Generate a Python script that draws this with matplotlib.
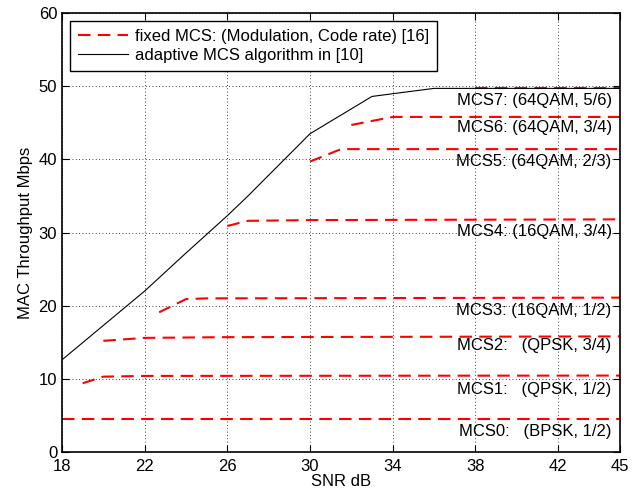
import matplotlib
matplotlib.use('Agg')
import matplotlib.pyplot as plt

plt.rcParams['font.family'] = ['Liberation Sans', 'DejaVu Sans']

# adaptive MCS algorithm
snr_adapt = [18, 20, 22, 24, 26, 27, 30, 33, 36, 45]
thr_adapt = [12.6, 17.3, 22.0, 27.2, 32.3, 35.0, 43.5, 48.6, 49.7, 49.7]

# fixed MCS curves (x, y)
mcs_x = [
    [18, 45],
    [19, 20, 22, 45],
    [20, 22, 26, 45],
    [22.7, 24, 25, 45],
    [26, 27, 30, 45],
    [30, 31.5, 34, 45],
    [32, 34, 45],
    [38, 45],
]
mcs_y = [
    [4.5, 4.5],
    [9.4, 10.3, 10.4, 10.45],
    [15.2, 15.6, 15.7, 15.8],
    [19.1, 20.9, 21.0, 21.1],
    [30.9, 31.6, 31.7, 31.8],
    [39.7, 41.4, 41.4, 41.4],
    [44.7, 45.8, 45.8],
    [49.7, 49.7],
]
mcs_labels = [
    'MCS0:   (BPSK, 1/2)',
    'MCS1:   (QPSK, 1/2)',
    'MCS2:   (QPSK, 3/4)',
    'MCS3: (16QAM, 1/2)',
    'MCS4: (16QAM, 3/4)',
    'MCS5: (64QAM, 2/3)',
    'MCS6: (64QAM, 3/4)',
    'MCS7: (64QAM, 5/6)',
]
label_y = [2.8, 8.5, 14.6, 19.4, 30.1, 39.7, 44.3, 48.1]

fig = plt.figure(figsize=(6.44, 4.97), dpi=100)
ax = fig.add_axes([0.0963, 0.0905, 0.8664, 0.8833])

for i in range(len(mcs_x)):
    ax.plot(mcs_x[i], mcs_y[i], color='red', lw=1.5, dashes=(6, 3.5),
            label='fixed MCS: (Modulation, Code rate) [16]' if i == 0 else None)
ax.plot(snr_adapt, thr_adapt, color='black', lw=0.8,
        label='adaptive MCS algorithm in [10]')

for lab, y in zip(mcs_labels, label_y):
    ax.text(44.6, y, lab, ha='right', va='center', fontsize=12)

ax.set_xlim(18, 45)
ax.set_ylim(0, 60)
ax.set_xticks([18, 22, 26, 30, 34, 38, 42, 45])
ax.set_yticks(range(0, 61, 10))
ax.grid(True, color='black', linestyle=(0, (1, 3)), lw=0.6)
ax.tick_params(direction='in', top=True, right=True, length=5, labelsize=12)
ax.tick_params(axis='x', pad=5)
for s in ax.spines.values():
    s.set_linewidth(1.2)

ax.set_xlabel('SNR dB', fontsize=12, labelpad=0)
ax.set_ylabel('MAC Throughput Mbps', fontsize=12, labelpad=4)

leg = ax.legend(loc='upper left', fontsize=12, handlelength=3.0, handletextpad=0.45,
                fancybox=False, framealpha=1, edgecolor='black', borderpad=0.45,
                labelspacing=0.25, borderaxespad=0.5)
leg.get_frame().set_linewidth(1.0)

fig.savefig('out.png', dpi=100)
